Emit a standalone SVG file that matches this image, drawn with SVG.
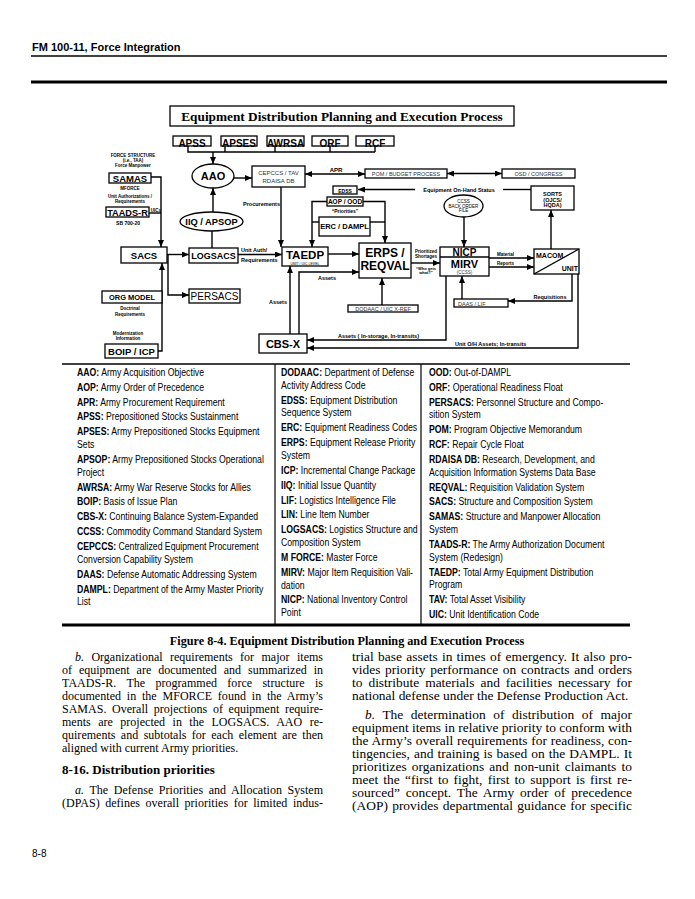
<svg xmlns="http://www.w3.org/2000/svg" width="695" height="899" viewBox="0 0 695 899">
<style>
.bx{fill:#fff;stroke:#000;stroke-width:1.3}
.sf{font-family:"Liberation Sans",Arial,sans-serif;fill:#000}
.bd{font-weight:bold}
.mid{text-anchor:middle}
.end{text-anchor:end}
.ln{fill:none;stroke:#000;stroke-width:1.4}
.ar{fill:none;stroke:#000;stroke-width:1.4;marker-end:url(#ah)}
.gr{fill:#333}
.lg{font-family:"Liberation Sans",Arial,sans-serif;font-size:10px;fill:#000}
.bt{font-family:"Liberation Serif","Times New Roman",serif;font-size:12px;fill:#000}
</style>
<defs>
<marker id="ah" markerWidth="7" markerHeight="6" refX="7" refY="3" orient="auto-start-reverse" markerUnits="userSpaceOnUse"><path d="M0,0 L7,3 L0,6 z" fill="#000"/></marker>
</defs>
<rect width="695" height="899" fill="#fff"/>

<!-- page header -->
<text class="sf bd" x="32" y="51" font-size="11">FM 100-11, Force Integration</text>
<line x1="31" y1="56" x2="667" y2="56" stroke="#000" stroke-width="1.5"/>
<line x1="31" y1="82" x2="667" y2="82" stroke="#000" stroke-width="3"/>

<!-- title -->
<g id="title">
<rect class="bx" x="170" y="106" width="344" height="20"/>
<text x="342" y="121" class="mid" font-family="'Liberation Serif','Times New Roman',serif" font-weight="bold" font-size="13.3">Equipment Distribution Planning and Execution Process</text>
</g>

<!-- connectors -->
<g id="connectors">
<polyline class="ln" points="188,146 188,152 375,152"/>
<line class="ln" x1="225" y1="146" x2="225" y2="152"/>
<line class="ln" x1="275" y1="146" x2="275" y2="152"/>
<line class="ln" x1="330" y1="146" x2="330" y2="152"/>
<line class="ln" x1="375" y1="146" x2="375" y2="152"/>
<line class="ar" x1="213" y1="152" x2="213" y2="164"/>
<line class="ar" x1="234" y1="178" x2="252" y2="178"/>
<line class="ar" x1="305" y1="174" x2="365" y2="174" marker-start="url(#ah)"/>
<line class="ar" x1="447" y1="173.5" x2="502" y2="173.5" marker-start="url(#ah)"/>
<line class="ar" x1="415" y1="189.5" x2="358" y2="189.5"/>
<line class="ln" x1="503" y1="189.5" x2="531" y2="189.5"/>
<polyline class="ar" points="327,201.5 312,201.5 312,247"/>
<polyline class="ar" points="363,201.5 385,201.5 385,243"/>
<line class="ln" x1="312" y1="222" x2="319" y2="222"/>
<line class="ln" x1="370" y1="222" x2="385" y2="222"/>
<line class="ar" x1="281" y1="187" x2="281" y2="247"/>
<line class="ar" x1="464" y1="217" x2="464" y2="247"/>
<line class="ar" x1="551" y1="249" x2="551" y2="210"/>
<line class="ar" x1="213" y1="212" x2="213" y2="188"/>
<line class="ln" x1="212" y1="231" x2="212" y2="248"/>
<polyline class="ar" points="151,177 161,177 161,247"/>
<line class="ln" x1="149" y1="213" x2="161" y2="213"/>
<line class="ar" x1="167" y1="254.5" x2="189" y2="254.5"/>
<polyline class="ar" points="168,254.5 168,295 189,295"/>
<line class="ar" x1="238" y1="254.5" x2="282" y2="254.5"/>
<line class="ar" x1="328" y1="254" x2="359" y2="254"/>
<polyline class="ar" points="299,334 299,272 359,272"/>
<line class="ar" x1="290" y1="334" x2="290" y2="266"/>
<polyline class="ar" points="446,276 446,340 307,340"/>
<polyline class="ar" points="578,274 578,348 307,348"/>
<line class="ar" x1="411" y1="263" x2="440" y2="263"/>
<line class="ar" x1="489" y1="258" x2="534" y2="258"/>
<line class="ar" x1="489" y1="267" x2="534" y2="267"/>
<polyline class="ar" points="572,274 572,301 508,301"/>
<line class="ar" x1="462" y1="299" x2="462" y2="276"/>
<line class="ar" x1="382" y1="305" x2="382" y2="278"/>
<polyline class="ar" points="158,351 162,351 162,263"/>
</g>

<!-- connector labels -->
<g id="labels" class="sf bd">
<text x="336" y="172" class="mid" font-size="6">APR</text>
<text x="459" y="191.5" class="mid" font-size="5.5">Equipment On-Hand Status</text>
<text x="345" y="213" class="mid" font-size="5">“Priorities”</text>
<text x="280" y="206" class="end" font-size="5.5">Procurements</text>
<text x="241" y="252" font-size="5.5">Unit Auth/</text>
<text x="241" y="262" font-size="5.5">Requirements</text>
<text x="327" y="280" class="mid" font-size="5.5">Assets</text>
<text x="287" y="304" class="end" font-size="5.5">Assets</text>
<text x="338" y="338" font-size="5.5">Assets ( In-storage, In-transits)</text>
<text x="455" y="346" font-size="5.5">Unit O/H Assets; In-transits</text>
<text x="426" y="253" class="mid" font-size="4.5">Prioritized</text>
<text x="426" y="257.5" class="mid" font-size="4.5">Shortages</text>
<text x="426" y="270" class="mid" font-size="4">“Who gets</text>
<text x="426" y="274" class="mid" font-size="4">what?”</text>
<text x="497" y="256" font-size="4.5">Material</text>
<text x="497" y="265" font-size="4.5">Reports</text>
<text x="550" y="299" class="mid" font-size="5.5">Requisitions</text>
<text x="156" y="211.5" class="mid" font-size="4.5">UICs</text>
<text x="133" y="157" class="mid" font-size="4.5">FORCE STRUCTURE</text>
<text x="133" y="161.5" class="mid" font-size="4.5">(i.e., TAA)</text>
<text x="133" y="166.5" class="mid" font-size="4.5">Force Manpower</text>
<text x="130" y="190" class="mid" font-size="4.5">MFORCE</text>
<text x="130" y="198" class="mid" font-size="4.5">Unit Authorizations /</text>
<text x="130" y="203" class="mid" font-size="4.5">Requirements</text>
<text x="128" y="225" class="mid" font-size="5">SB 700-20</text>
<text x="130" y="310" class="mid" font-size="4.5">Doctrinal</text>
<text x="130" y="315.5" class="mid" font-size="4.5">Requirements</text>
<text x="128" y="334.5" class="mid" font-size="4.5">Modernization</text>
<text x="128" y="339.5" class="mid" font-size="4.5">Information</text>
</g>

<!-- nodes -->
<g id="apss"><rect class="bx" x="173" y="136" width="38" height="10"/><text class="sf bd mid" x="192" y="147" font-size="10">APSS</text></g>
<g id="apses"><rect class="bx" x="221" y="136" width="36" height="10"/><text class="sf bd mid" x="239" y="147" font-size="10">APSES</text></g>
<g id="awrsa"><rect class="bx" x="267" y="136" width="37" height="10"/><text class="sf bd mid" x="285.5" y="147" font-size="10">AWRSA</text></g>
<g id="orf"><rect class="bx" x="312" y="136" width="36" height="10"/><text class="sf bd mid" x="330" y="147" font-size="10">ORF</text></g>
<g id="rcf"><rect class="bx" x="356" y="136" width="38" height="10"/><text class="sf bd mid" x="375" y="147" font-size="10">RCF</text></g>

<g id="aao"><ellipse class="bx" cx="213" cy="176" rx="21" ry="12"/><text class="sf bd mid" x="213" y="180" font-size="11">AAO</text></g>
<g id="cepccs"><rect class="bx" x="252" y="166" width="53" height="21"/><text class="sf mid gr" x="278.5" y="175" font-size="6">CEPCCS / TAV</text><text class="sf mid gr" x="278.5" y="182.5" font-size="6">RDAISA DB</text></g>
<g id="pom"><rect class="bx" x="365" y="169" width="82" height="9"/><text class="sf mid gr" x="406" y="176" font-size="5.5">POM / BUDGET PROCESS</text></g>
<g id="osd"><rect class="bx" x="502" y="169" width="73" height="9"/><text class="sf mid gr" x="538.5" y="176" font-size="5.5">OSD / CONGRESS</text></g>
<g id="edss"><rect class="bx" x="333" y="186" width="24" height="8"/><text class="sf bd mid" x="345" y="192.5" font-size="5">EDSS</text></g>
<g id="sorts"><rect class="bx" x="531" y="186" width="43" height="24"/><text class="sf bd mid" x="552.5" y="196" font-size="5.5">SORTS</text><text class="sf bd mid" x="552.5" y="201.5" font-size="5.5">(OJCS/</text><text class="sf bd mid" x="552.5" y="207" font-size="5.5">HQDA)</text></g>
<g id="aop"><rect class="bx" x="327" y="197" width="36" height="9"/><text class="sf bd mid" x="345" y="204" font-size="6.5">AOP / OOD</text></g>
<g id="erc"><rect class="bx" x="319" y="217" width="51" height="19"/><text class="sf bd mid" x="344.5" y="229" font-size="7.5">ERC / DAMPL</text></g>
<g id="ccss"><ellipse class="bx" cx="463.5" cy="206" rx="19.5" ry="11"/><text class="sf mid" x="463.5" y="203" font-size="4.5">CCSS</text><text class="sf mid" x="463.5" y="207.5" font-size="4.5">BACK ORDER</text><text class="sf mid" x="463.5" y="212" font-size="4.5">FILE</text></g>
<g id="iiq"><ellipse class="bx" cx="211.5" cy="221.5" rx="31.5" ry="9.5"/><text class="sf bd mid" x="211.5" y="225" font-size="9.3">IIQ / APSOP</text></g>
<g id="samas"><rect class="bx" x="109" y="173" width="42" height="10"/><text class="sf bd mid" x="130" y="182" font-size="9.5">SAMAS</text></g>
<g id="taads"><rect class="bx" x="106" y="207" width="43" height="10"/><text class="sf bd mid" x="127.5" y="216" font-size="9.2">TAADS-R</text></g>
<g id="sacs"><rect class="bx" x="121" y="247" width="46" height="16"/><text class="sf bd mid" x="144" y="258.5" font-size="9.5">SACS</text></g>
<g id="logsacs"><rect class="bx" x="189" y="248" width="49" height="15"/><text class="sf bd mid" x="213.5" y="259" font-size="9">LOGSACS</text></g>
<g id="persacs"><rect class="bx" x="189" y="289" width="51" height="14"/><text class="sf mid" x="214.5" y="300" font-size="10">PERSACS</text></g>
<g id="taedp"><rect class="bx" x="282" y="247" width="46" height="19"/><text class="sf bd mid" x="305" y="259" font-size="11.5">TAEDP</text><text class="sf mid" x="305" y="264.5" font-size="3.5">UNIT / UIC LEVEL</text></g>
<g id="erps"><rect class="bx" x="359" y="243" width="52" height="35"/><text class="sf bd mid" x="385" y="257" font-size="12">ERPS /</text><text class="sf bd mid" x="385" y="270" font-size="12">REQVAL</text></g>
<g id="nicp"><rect class="bx" x="440" y="247" width="49" height="29"/><line x1="440" y1="257" x2="489" y2="257" stroke="#000" stroke-width="1.3"/><text class="sf bd mid" x="464.5" y="256" font-size="10">NICP</text><text class="sf bd mid" x="464.5" y="268" font-size="11">MIRV</text><text class="sf mid gr" x="464.5" y="274" font-size="4.5">(CCSS)</text></g>
<g id="macom"><rect class="bx" x="534" y="249" width="45" height="25"/><line x1="534" y1="274" x2="579" y2="249" stroke="#000" stroke-width="1.3"/><text class="sf bd" x="536" y="258" font-size="7">MACOM</text><text class="sf bd end" x="578" y="271" font-size="7">UNIT</text></g>
<g id="daas"><rect class="bx" x="454" y="299" width="54" height="8"/><text class="sf gr" x="458" y="306" font-size="5.5">DAAS / LIF</text></g>
<g id="dodaac"><rect class="bx" x="348" y="305" width="70" height="7"/><text class="sf mid gr" x="383" y="311" font-size="5.5">DODAAC / UIC X-REF</text></g>
<g id="cbsx"><rect class="bx" x="259" y="334" width="48" height="19"/><text class="sf bd mid" x="283" y="348" font-size="11">CBS-X</text></g>
<g id="orgmodel"><rect class="bx" x="102" y="291" width="60" height="12"/><text class="sf bd mid" x="132" y="300" font-size="7.5">ORG MODEL</text></g>
<g id="boip"><rect class="bx" x="105" y="344" width="53" height="14"/><text class="sf bd mid" x="131.5" y="355" font-size="9.5">BOIP / ICP</text></g>

<!-- legend -->
<g id="legend">
<line x1="62" y1="364" x2="630" y2="364" stroke="#000" stroke-width="1.5"/>
<line x1="275" y1="364" x2="275" y2="624" stroke="#000" stroke-width="1.2"/>
<line x1="421" y1="364" x2="421" y2="624" stroke="#000" stroke-width="1.2"/>
<line x1="62" y1="625" x2="630" y2="625" stroke="#000" stroke-width="3"/>
<g transform="matrix(0.87,0,0,1,77,0)" class="lg">
<text y="376"><tspan font-weight="bold">AAO:</tspan> Army Acquisition Objective</text>
<text y="390.8"><tspan font-weight="bold">AOP:</tspan> Army Order of Precedence</text>
<text y="405.7"><tspan font-weight="bold">APR:</tspan> Army Procurement Requirement</text>
<text y="420.5"><tspan font-weight="bold">APSS:</tspan> Prepositioned Stocks Sustainment</text>
<text y="435.4"><tspan font-weight="bold">APSES:</tspan> Army Prepositioned Stocks Equipment</text>
<text y="448.2">Sets</text>
<text y="463"><tspan font-weight="bold">APSOP:</tspan> Army Prepositioned Stocks Operational</text>
<text y="475.8">Project</text>
<text y="490.7"><tspan font-weight="bold">AWRSA:</tspan> Army War Reserve Stocks for Allies</text>
<text y="505.5"><tspan font-weight="bold">BOIP:</tspan> Basis of Issue Plan</text>
<text y="520.4"><tspan font-weight="bold">CBS-X:</tspan> Continuing Balance System-Expanded</text>
<text y="535.2"><tspan font-weight="bold">CCSS:</tspan> Commodity Command Standard System</text>
<text y="550.1"><tspan font-weight="bold">CEPCCS:</tspan> Centralized Equipment Procurement</text>
<text y="562.9">Conversion Capability System</text>
<text y="577.7"><tspan font-weight="bold">DAAS:</tspan> Defense Automatic Addressing System</text>
<text y="592.6"><tspan font-weight="bold">DAMPL:</tspan> Department of the Army Master Priority</text>
<text y="605.4">List</text>
</g>
<g transform="matrix(0.87,0,0,1,281,0)" class="lg">
<text y="376"><tspan font-weight="bold">DODAAC:</tspan> Department of Defense</text>
<text y="388.8">Activity Address Code</text>
<text y="403.7"><tspan font-weight="bold">EDSS:</tspan> Equipment Distribution</text>
<text y="416.5">Sequence System</text>
<text y="431.4"><tspan font-weight="bold">ERC:</tspan> Equipment Readiness Codes</text>
<text y="446.2"><tspan font-weight="bold">ERPS:</tspan> Equipment Release Priority</text>
<text y="459">System</text>
<text y="473.9"><tspan font-weight="bold">ICP:</tspan> Incremental Change Package</text>
<text y="488.7"><tspan font-weight="bold">IIQ:</tspan> Initial Issue Quantity</text>
<text y="503.6"><tspan font-weight="bold">LIF:</tspan> Logistics Intelligence File</text>
<text y="518.4"><tspan font-weight="bold">LIN:</tspan> Line Item Number</text>
<text y="533.3"><tspan font-weight="bold">LOGSACS:</tspan> Logistics Structure and</text>
<text y="546.1">Composition System</text>
<text y="560.9"><tspan font-weight="bold">M FORCE:</tspan> Master Force</text>
<text y="575.8"><tspan font-weight="bold">MIRV:</tspan> Major Item Requisition Vali-</text>
<text y="588.6">dation</text>
<text y="603.4"><tspan font-weight="bold">NICP:</tspan> National Inventory Control</text>
<text y="616.2">Point</text>
</g>
<g transform="matrix(0.87,0,0,1,429,0)" class="lg">
<text y="376"><tspan font-weight="bold">OOD:</tspan> Out-of-DAMPL</text>
<text y="390.8"><tspan font-weight="bold">ORF:</tspan> Operational Readiness Float</text>
<text y="405.7"><tspan font-weight="bold">PERSACS:</tspan> Personnel Structure and Compo-</text>
<text y="418.5">sition System</text>
<text y="433.3"><tspan font-weight="bold">POM:</tspan> Program Objective Memorandum</text>
<text y="448.2"><tspan font-weight="bold">RCF:</tspan> Repair Cycle Float</text>
<text y="463"><tspan font-weight="bold">RDAISA DB:</tspan> Research, Development, and</text>
<text y="475.8">Acquisition Information Systems Data Base</text>
<text y="490.7"><tspan font-weight="bold">REQVAL:</tspan> Requisition Validation System</text>
<text y="505.5"><tspan font-weight="bold">SACS:</tspan> Structure and Composition System</text>
<text y="520.4"><tspan font-weight="bold">SAMAS:</tspan> Structure and Manpower Allocation</text>
<text y="533.2">System</text>
<text y="548"><tspan font-weight="bold">TAADS-R:</tspan> The Army Authorization Document</text>
<text y="560.8">System (Redesign)</text>
<text y="575.7"><tspan font-weight="bold">TAEDP:</tspan> Total Army Equipment Distribution</text>
<text y="588.5">Program</text>
<text y="603.3"><tspan font-weight="bold">TAV:</tspan> Total Asset Visibility</text>
<text y="618.2"><tspan font-weight="bold">UIC:</tspan> Unit Identification Code</text>
</g>
</g>

<text x="347" y="645" class="mid" font-family="'Liberation Serif','Times New Roman',serif" font-weight="bold" font-size="12.2">Figure 8-4. Equipment Distribution Planning and Execution Process</text>

<!-- body text, left column -->
<g class="bt">
<text x="75" y="661" word-spacing="4.4" textLength="248" lengthAdjust="spacing"><tspan font-style="italic">b.</tspan> Organizational requirements for major items</text>
<text x="62" y="674" word-spacing="3.9" textLength="261" lengthAdjust="spacing">of equipment are documented and summarized in</text>
<text x="62" y="687" word-spacing="7.2" textLength="261" lengthAdjust="spacing">TAADS-R. The programmed force structure is</text>
<text x="62" y="700" word-spacing="2.7" textLength="261" lengthAdjust="spacing">documented in the MFORCE found in the Army’s</text>
<text x="62" y="713" word-spacing="2.7" textLength="261" lengthAdjust="spacing">SAMAS. Overall projections of equipment require-</text>
<text x="62" y="726" word-spacing="4.4" textLength="261" lengthAdjust="spacing">ments are projected in the LOGSACS. AAO re-</text>
<text x="62" y="739" word-spacing="2.4" textLength="261" lengthAdjust="spacing">quirements and subtotals for each element are then</text>
<text x="62" y="752">aligned with current Army priorities.</text>
<text x="62" y="774" font-weight="bold" font-size="13">8-16. Distribution priorities</text>
<text x="75" y="794" word-spacing="2.6" textLength="248" lengthAdjust="spacing"><tspan font-style="italic">a.</tspan> The Defense Priorities and Allocation System</text>
<text x="62" y="807" word-spacing="2.5" textLength="261" lengthAdjust="spacing">(DPAS) defines overall priorities for limited indus-</text>
</g>
<!-- body text, right column -->
<g class="bt" transform="matrix(1.12,0,0,1,352,0)">
<text x="0" y="661" word-spacing="0.7" textLength="250" lengthAdjust="spacing">trial base assets in times of emergency. It also pro-</text>
<text x="0" y="674" word-spacing="1.2" textLength="250" lengthAdjust="spacing">vides priority performance on contracts and orders</text>
<text x="0" y="687" word-spacing="2.3" textLength="250" lengthAdjust="spacing">to distribute materials and facilities necessary for</text>
<text x="0" y="700">national defense under the Defense Production Act.</text>
<text x="11.6" y="719" word-spacing="3.7" textLength="238.4" lengthAdjust="spacing"><tspan font-style="italic">b.</tspan> The determination of distribution of major</text>
<text x="0" y="732" textLength="250" lengthAdjust="spacing">equipment items in relative priority to conform with</text>
<text x="0" y="745" word-spacing="0.3" textLength="250" lengthAdjust="spacing">the Army’s overall requirements for readiness, con-</text>
<text x="0" y="758" word-spacing="0.6" textLength="250" lengthAdjust="spacing">tingencies, and training is based on the DAMPL. It</text>
<text x="0" y="771" word-spacing="1.6" textLength="250" lengthAdjust="spacing">prioritizes organizations and non-unit claimants to</text>
<text x="0" y="784" word-spacing="1.6" textLength="250" lengthAdjust="spacing">meet the “first to fight, first to support is first re-</text>
<text x="0" y="797" word-spacing="2.1" textLength="250" lengthAdjust="spacing">sourced” concept. The Army order of precedence</text>
<text x="0" y="810" word-spacing="0.8" textLength="250" lengthAdjust="spacing">(AOP) provides departmental guidance for specific</text>
</g>

<text class="sf" x="32" y="857" font-size="10">8-8</text>
</svg>
